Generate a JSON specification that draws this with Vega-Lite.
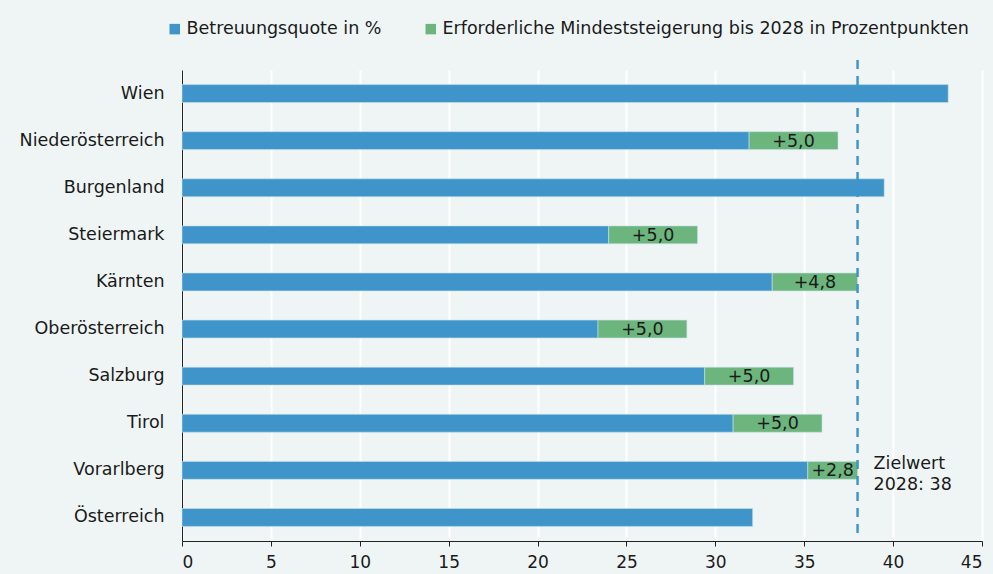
{
  "$schema": "https://vega.github.io/schema/vega-lite/v6.json",
  "width": 800,
  "height": 471,
  "autosize": {"type": "none"},
  "padding": {"left": 182, "top": 70, "right": 11, "bottom": 33},
  "background": "#eff5f5",
  "config": {
    "view": {"stroke": null},
    "font": "DejaVu Sans",
    "axis": {"labelFont": "DejaVu Sans", "labelColor": "#1a1a1a", "labelFontSize": 17},
    "legend": {"labelFont": "DejaVu Sans"}
  },
  "datasets": {
    "bars": [
      {"region": "Wien", "series": "Betreuungsquote in %", "value": 43.1},
      {"region": "Niederösterreich", "series": "Betreuungsquote in %", "value": 31.9},
      {"region": "Niederösterreich", "series": "Erforderliche Mindeststeigerung bis 2028 in Prozentpunkten", "value": 5.0, "label": "+5,0"},
      {"region": "Burgenland", "series": "Betreuungsquote in %", "value": 39.5},
      {"region": "Steiermark", "series": "Betreuungsquote in %", "value": 24.0},
      {"region": "Steiermark", "series": "Erforderliche Mindeststeigerung bis 2028 in Prozentpunkten", "value": 5.0, "label": "+5,0"},
      {"region": "Kärnten", "series": "Betreuungsquote in %", "value": 33.2},
      {"region": "Kärnten", "series": "Erforderliche Mindeststeigerung bis 2028 in Prozentpunkten", "value": 4.8, "label": "+4,8"},
      {"region": "Oberösterreich", "series": "Betreuungsquote in %", "value": 23.4},
      {"region": "Oberösterreich", "series": "Erforderliche Mindeststeigerung bis 2028 in Prozentpunkten", "value": 5.0, "label": "+5,0"},
      {"region": "Salzburg", "series": "Betreuungsquote in %", "value": 29.4},
      {"region": "Salzburg", "series": "Erforderliche Mindeststeigerung bis 2028 in Prozentpunkten", "value": 5.0, "label": "+5,0"},
      {"region": "Tirol", "series": "Betreuungsquote in %", "value": 31.0},
      {"region": "Tirol", "series": "Erforderliche Mindeststeigerung bis 2028 in Prozentpunkten", "value": 5.0, "label": "+5,0"},
      {"region": "Vorarlberg", "series": "Betreuungsquote in %", "value": 35.2},
      {"region": "Vorarlberg", "series": "Erforderliche Mindeststeigerung bis 2028 in Prozentpunkten", "value": 2.8, "label": "+2,8"},
      {"region": "Österreich", "series": "Betreuungsquote in %", "value": 32.1}
    ],
    "target": [
      {"region": "Vorarlberg", "value": 38, "label": "Zielwert\n2028: 38"}
    ]
  },
  "layer": [
    {
      "data": {"name": "bars"},
      "transform": [
        {"stack": "value", "groupby": ["region"], "sort": [{"field": "series", "order": "ascending"}], "as": ["x0", "x1"]}
      ],
      "mark": {"type": "bar", "stroke": "#c8e0ec", "strokeWidth": 0.6},
      "encoding": {
        "y": {
          "field": "region", "type": "nominal",
          "sort": ["Wien", "Niederösterreich", "Burgenland", "Steiermark", "Kärnten", "Oberösterreich", "Salzburg", "Tirol", "Vorarlberg", "Österreich"],
          "scale": {"paddingInner": 0.62, "paddingOuter": 0.31},
          "axis": {"title": null, "ticks": false, "domainColor": "#222222", "labelPadding": 18, "labelFontSize": 17.5}
        },
        "x": {
          "field": "x0", "type": "quantitative",
          "scale": {"domain": [0, 45], "nice": false},
          "axis": {"title": null, "values": [0, 5, 10, 15, 20, 25, 30, 35, 40, 45], "gridColor": "#ffffff", "gridWidth": 2, "domainColor": "#222222", "tickColor": "#222222", "tickSize": 5, "labelPadding": 8}
        },
        "x2": {"field": "x1"},
        "color": {
          "field": "series", "type": "nominal",
          "scale": {"domain": ["Betreuungsquote in %", "Erforderliche Mindeststeigerung bis 2028 in Prozentpunkten"], "range": ["#3f95ca", "#6cb57d"]},
          "legend": {
            "title": null, "orient": "none", "legendX": -16, "legendY": -50, "direction": "horizontal",
            "symbolType": "square", "symbolSize": 110, "symbolStrokeWidth": 0, "labelFontSize": 17.5, "labelColor": "#1a1a1a",
            "labelLimit": 700, "columnPadding": 40, "labelOffset": 3
          }
        }
      }
    },
    {
      "data": {"name": "bars"},
      "transform": [
        {"stack": "value", "groupby": ["region"], "sort": [{"field": "series", "order": "ascending"}], "as": ["x0", "x1"]},
        {"filter": "datum.label != null"},
        {"calculate": "(datum.x0 + datum.x1) / 2", "as": "xmid"}
      ],
      "mark": {"type": "text", "fontSize": 17.5, "color": "#1a1a1a", "baseline": "middle", "align": "center", "dy": 1},
      "encoding": {
        "y": {"field": "region", "type": "nominal", "sort": ["Wien", "Niederösterreich", "Burgenland", "Steiermark", "Kärnten", "Oberösterreich", "Salzburg", "Tirol", "Vorarlberg", "Österreich"]},
        "x": {"field": "xmid", "type": "quantitative"},
        "text": {"field": "label"}
      }
    },
    {
      "data": {"name": "target"},
      "mark": {"type": "rule", "color": "#3f95ca", "strokeWidth": 2.5, "strokeDash": [9, 7], "y": -10, "y2": {"expr": "height-6"}},
      "encoding": {"x": {"field": "value", "type": "quantitative"}}
    },
    {
      "data": {"name": "target"},
      "mark": {"type": "text", "align": "left", "baseline": "middle", "dx": 16, "dy": -6, "fontSize": 17.5, "color": "#1a1a1a", "lineBreak": "\n", "lineHeight": 21},
      "encoding": {
        "x": {"field": "value", "type": "quantitative"},
        "y": {"field": "region", "type": "nominal", "sort": ["Wien", "Niederösterreich", "Burgenland", "Steiermark", "Kärnten", "Oberösterreich", "Salzburg", "Tirol", "Vorarlberg", "Österreich"]},
        "text": {"field": "label"}
      }
    }
  ]
}
